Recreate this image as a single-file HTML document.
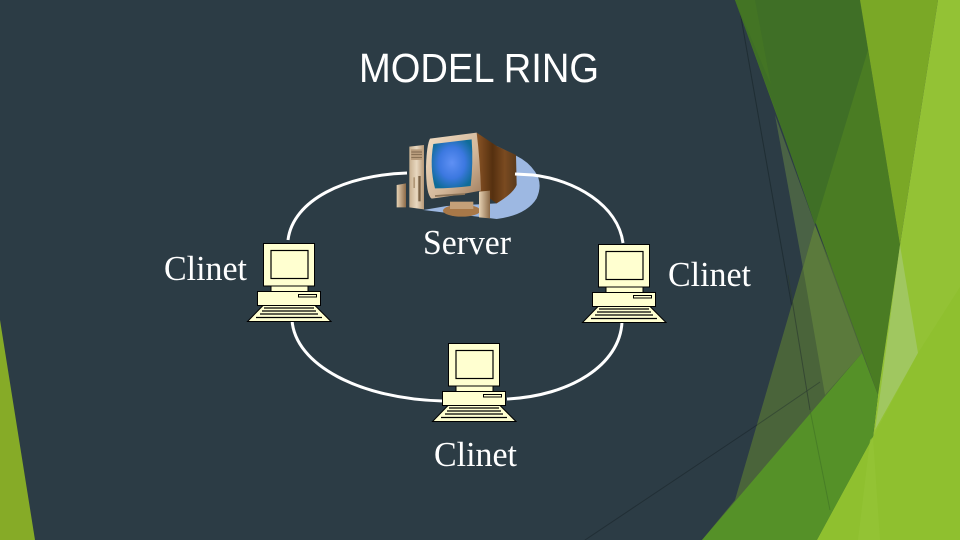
<!DOCTYPE html>
<html><head><meta charset="utf-8"><style>
html,body{margin:0;padding:0;background:#2c3c45}
svg{display:block}
</style></head><body>
<svg width="960" height="540" viewBox="0 0 960 540" xmlns="http://www.w3.org/2000/svg">
<defs>
<radialGradient id="scr" cx="50%" cy="48%" r="58%"><stop offset="0" stop-color="#5f90f4"/><stop offset=".55" stop-color="#3c78e0"/><stop offset="1" stop-color="#0f6c98"/></radialGradient>
<linearGradient id="bez" x1="0" y1="0" x2="1" y2="1"><stop offset="0" stop-color="#f2dfc6"/><stop offset=".6" stop-color="#d2b698"/><stop offset="1" stop-color="#a07c5c"/></linearGradient>
<linearGradient id="brn" x1="0" y1="0" x2="1" y2="0"><stop offset="0" stop-color="#8a5426"/><stop offset=".4" stop-color="#55300f"/><stop offset=".7" stop-color="#7a4a20"/><stop offset="1" stop-color="#5a3a1c"/></linearGradient>
<linearGradient id="spk" x1="0" y1="0" x2="1" y2="0"><stop offset="0" stop-color="#e6d2b4"/><stop offset="1" stop-color="#8c6a48"/></linearGradient>
<linearGradient id="twr" x1="0" y1="0" x2="1" y2="0"><stop offset="0" stop-color="#c8b090"/><stop offset=".5" stop-color="#e8d8c0"/><stop offset="1" stop-color="#b89a78"/></linearGradient>
<g id="pc" stroke="#000" stroke-width="1" fill="#ffffd0">
<rect x="263.5" y="243.5" width="51" height="42.5"/>
<rect x="271" y="250.5" width="37" height="28" stroke-width="1.2"/>
<rect x="271" y="286" width="37" height="5.5"/>
<rect x="257.5" y="291.5" width="63" height="14"/>
<rect x="298.5" y="294.5" width="18" height="2.5"/>
<polygon points="263,305.5 315,305.5 331,321.5 247.5,321.5"/>
<path d="M264 308H314M262 311H316M260 314H318M256 317.5H322" fill="none" stroke-width="1.2"/>
</g>
</defs>

<rect width="960" height="540" fill="#2c3c45"/>

<!-- left triangle -->
<polygon points="0,320 35,540 0,540" fill="#86ab27"/>

<!-- thin lines under -->
<path d="M738 0L810 410" stroke="#1d2a30" stroke-width="1" fill="none" opacity=".8"/>

<!-- right decoration -->
<polygon points="775,115 803,268 815,225" fill="#4a6245"/>
<polygon points="815,225 735,500 702,540 800,540 878,395 833,270" fill="#4c663a" fill-opacity=".96"/>
<polygon points="815,225 803,268 825,395 862,353" fill="#5b7a3c"/>
<path d="M788 275L810 410" stroke="#2c3c30" stroke-width="1" fill="none" opacity=".7"/>
<polygon points="735,0 860,0 900,245 878,395" fill="#4a7c23"/>
<polygon points="735,0 860,0 868,50 815,225 776,112" fill="#3f6f26"/>
<polygon points="735,0 755,0 771,85" fill="#437424"/>
<polygon points="860,0 938,0 900,245" fill="#7aa826"/>
<polygon points="938,0 960,0 960,540 817,540 873,437 878,395 900,245" fill="#93c235"/>
<polygon points="900,245 918,353 875,430 880,395" fill="#a0c760"/>
<polygon points="702,540 862,353 878,395 873,437 817,540" fill="#559128"/>
<polygon points="817,540 873,437 918,353 960,287 960,540" fill="#8fc02f"/>
<polygon points="858,540 870,440 873,437 880,540" fill="#94c436" opacity=".7"/>
<path d="M810 410L830 510" stroke="#3c6c24" stroke-width="1" fill="none" opacity=".5"/>
<path d="M585 540L757 425" stroke="#1d2a30" stroke-width="1" fill="none" opacity=".75"/>
<path d="M757 425L820 382" stroke="#2c3c30" stroke-width="1" fill="none" opacity=".6"/>

<!-- server -->
<g transform="translate(380,120) scale(.33333)">
<path d="M350 78L410 108Q445 125 465 155Q490 190 470 235Q440 285 350 297L130 270L200 258L350 250Z" fill="#9db8e2"/>
<ellipse cx="245" cy="272" rx="56" ry="18" fill="#a87848"/>
<rect x="210" y="245" width="70" height="22" fill="#c4a078"/>
<path d="M290 38L350 78L408 105L410 195Q400 220 350 250L300 215Z" fill="url(#brn)"/>
<path d="M150 56L290 38Q300 120 303 212Q220 228 155 236Q138 225 138 140Q140 75 150 56Z" fill="url(#bez)"/>
<path d="M160 72L275 58Q280 130 272 198Q215 205 165 205Q148 140 160 72Z" fill="url(#scr)"/>
<path d="M88 80L132 75L132 268L88 262Z" fill="url(#twr)"/>
<rect x="93" y="88" width="34" height="32" fill="#b89c7c"/>
<path d="M94 96H126M94 104H126M94 112H126" stroke="#6e5840" stroke-width="2"/>
<rect x="115" y="168" width="7" height="76" fill="#7c6448"/>
<rect x="100" y="172" width="5" height="32" fill="#b09878"/>
<path d="M50 195L78 190L78 262L50 262Z" fill="url(#spk)"/>
<path d="M297 215L330 212L330 295L297 292Z" fill="url(#spk)"/>
<path d="M165 228L255 222" stroke="#8c7458" stroke-width="5"/>
</g>

<!-- ring -->
<g fill="none" stroke="#fff" stroke-width="3">
<path d="M288 240C293 200 345 175 407 173"/>
<path d="M515 174L533 175C575 180 618 205 623 243"/>
<path d="M292 320C295 365 360 399 443 401"/>
<path d="M507 399C570 396 620 365 622 322"/>
</g>

<!-- clients -->
<use href="#pc"/>
<use href="#pc" x="335" y="1"/>
<use href="#pc" x="185" y="100"/>

<!-- text -->
<text x="359" y="82" font-family="'Liberation Sans',sans-serif" font-size="41" fill="#fff" textLength="240" lengthAdjust="spacingAndGlyphs">MODEL RING</text>
<g font-family="'Liberation Serif',serif" font-size="34.5" fill="#fff">
<text x="164" y="280" textLength="83" lengthAdjust="spacingAndGlyphs">Clinet</text>
<text x="423" y="254" textLength="88" lengthAdjust="spacingAndGlyphs">Server</text>
<text x="668" y="286" textLength="83" lengthAdjust="spacingAndGlyphs">Clinet</text>
<text x="434" y="466" textLength="83" lengthAdjust="spacingAndGlyphs">Clinet</text>
</g>
</svg>
</body></html>
